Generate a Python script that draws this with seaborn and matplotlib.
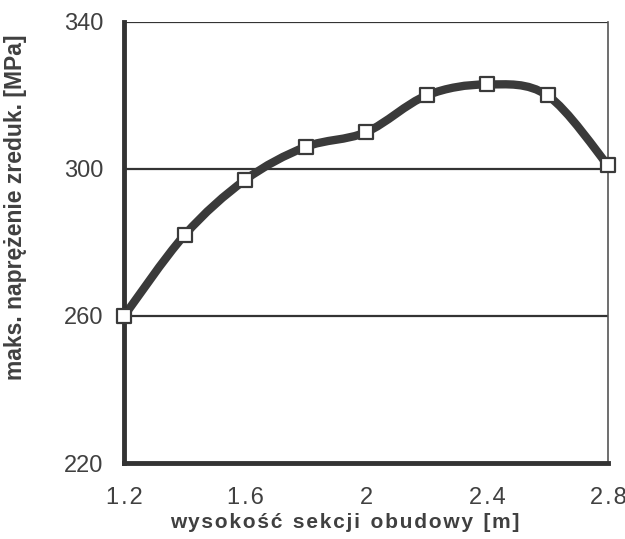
import numpy as np
import pandas as pd
import seaborn as sns
import matplotlib
matplotlib.use("Agg")
import matplotlib.pyplot as plt
from matplotlib.path import Path
from matplotlib.patches import PathPatch

# data
heights = [1.2, 1.4, 1.6, 1.8, 2.0, 2.2, 2.4, 2.6, 2.8]
stress = [260, 282, 297, 306, 310, 320, 323, 320, 301]
x_ticks = [1.2, 1.6, 2.0, 2.4, 2.8]
x_labels = ["1.2", "1.6", "2", "2.4", "2.8"]
y_ticks = [220, 260, 300, 340]

INK = "#333333"
TXT = "#404040"


def smooth_path(xs, ys, t=1 / 6):
    # Catmull-Rom style bezier through the data points (like a "smoothed line")
    xs, ys = np.asarray(xs, float), np.asarray(ys, float)
    verts = [(xs[0], ys[0])]
    codes = [Path.MOVETO]
    n = len(xs)
    for i in range(n - 1):
        p0 = i - 1 if i > 0 else i
        p3 = i + 2 if i + 2 < n else i + 1
        c1 = (xs[i] + (xs[i + 1] - xs[p0]) * t, ys[i] + (ys[i + 1] - ys[p0]) * t)
        c2 = (xs[i + 1] - (xs[p3] - xs[i]) * t, ys[i + 1] - (ys[p3] - ys[i]) * t)
        verts += [c1, c2, (xs[i + 1], ys[i + 1])]
        codes += [Path.CURVE4] * 3
    return Path(verts, codes)


def spaced(s, sep="\u200a"):
    # the scanned labels are loosely letter-spaced
    return sep.join(s).replace(sep + " " + sep, "\u2002")


sns.set_style("white")
plt.rcParams["font.family"] = ["Liberation Sans", "DejaVu Sans"]

fig = plt.figure(figsize=(6.25, 5.39), dpi=100)
ax = fig.add_axes([0.1984, 0.141, 0.7744, 0.8182])

df = pd.DataFrame({"h": heights, "s": stress})

for v in [260, 300, 340]:
    ax.axhline(v, color=INK, lw=1.6, zorder=1)

ax.add_patch(PathPatch(smooth_path(df["h"], df["s"]), fill=False,
                       edgecolor="#3a3a3a", lw=6, capstyle="round", zorder=2))
sns.scatterplot(data=df, x="h", y="s", marker="s", s=110, color="white",
                edgecolor="#3a3a3a", linewidth=1.6, zorder=3, ax=ax, clip_on=False)

ax.set_xlim(1.2, 2.8)
ax.set_ylim(220, 340)
ax.set_xticks(x_ticks)
ax.set_xticklabels([spaced(s) for s in x_labels])
ax.set_yticks(y_ticks)

ax.spines["top"].set_visible(False)
ax.spines["left"].set_linewidth(3.5)
ax.spines["bottom"].set_linewidth(3.5)
ax.spines["left"].set_color(INK)
ax.spines["bottom"].set_color(INK)
ax.spines["right"].set_linewidth(1.2)
ax.spines["right"].set_color("#555555")

ax.tick_params(axis="x", direction="inout", length=16, width=3.5, color=INK,
               labelsize=17, labelcolor=TXT, pad=9)
ax.tick_params(axis="y", direction="out", length=10, width=3.5, color=INK,
               labelsize=17, labelcolor=TXT, pad=5)

ax.set_xlabel(spaced("wysokość sekcji obudowy [m]"),
              fontsize=15, fontweight="bold", color=TXT)
ax.set_ylabel("maks. naprężenie zreduk. [MPa]", fontsize=16.5,
              fontweight="bold", color=TXT)
ax.xaxis.set_label_coords(0.457, -0.114)
ax.yaxis.set_label_coords(-0.2, 0.58)

fig.savefig("out.png", dpi=100)
